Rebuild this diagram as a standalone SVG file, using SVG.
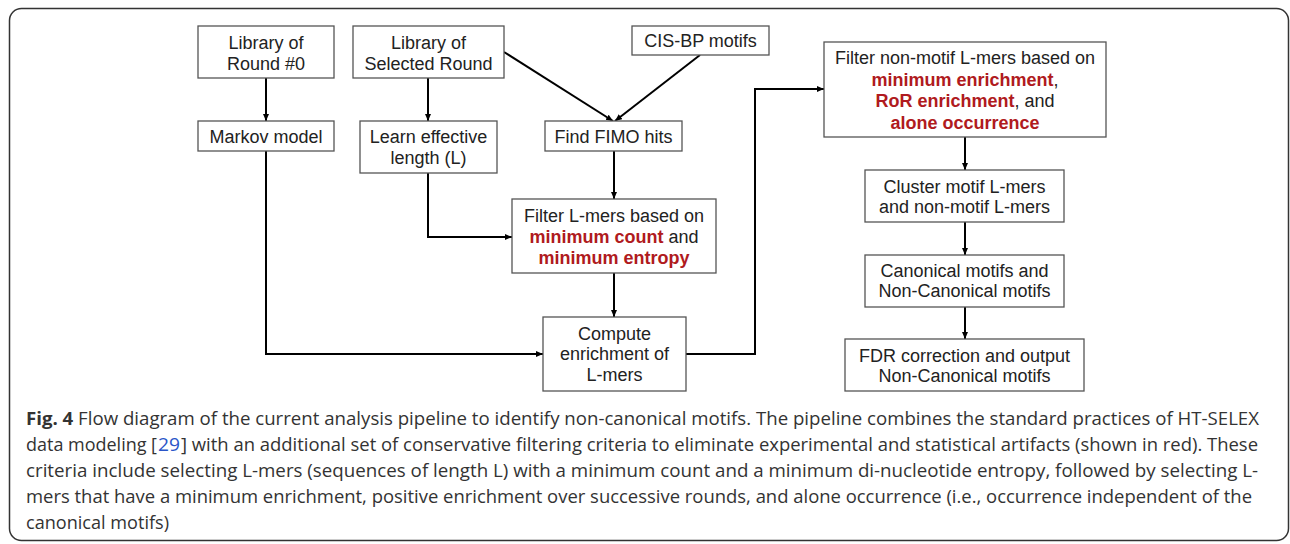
<svg xmlns="http://www.w3.org/2000/svg" width="1290" height="544" viewBox="0 0 1290 544">
<defs>
<marker id="ah" markerUnits="userSpaceOnUse" markerWidth="8" markerHeight="7" refX="7" refY="3" orient="auto">
<path d="M0,0 L7,3 L0,6 z" fill="#000"/>
</marker>
<style>
.box{fill:#fff;stroke:#555;stroke-width:1.3}
.t{font-family:"Liberation Sans",Arial,sans-serif;font-size:18px;fill:#222;text-anchor:middle}
.r{fill:#b01a20;font-weight:bold}
.c{fill:none;stroke:#000;stroke-width:2;marker-end:url(#ah)}
.cap{font-family:"Open Sans","Noto Sans",sans-serif;font-size:18px;fill:#333}
</style>
</defs>
<rect x="0" y="0" width="1290" height="544" fill="#fff"/>
<rect x="9.5" y="8.5" width="1279" height="532" rx="12" fill="none" stroke="#333" stroke-width="1.5"/>

<g id="connectors">
<path class="c" d="M266 78 V121"/>
<path class="c" d="M428 78 V121"/>
<path class="c" d="M504 52 L613 121"/>
<path class="c" d="M700 55 L615 121"/>
<path class="c" d="M614 151 V199"/>
<path class="c" d="M428 173 V237 H512"/>
<path class="c" d="M614 273 V317"/>
<path class="c" d="M266 151 V354 H543"/>
<path class="c" d="M686 354 H755 V89 H824"/>
<path class="c" d="M965 137 V170"/>
<path class="c" d="M965 222 V255"/>
<path class="c" d="M965 307 V339"/>
</g>

<g id="lib0"><rect class="box" x="198" y="26" width="136" height="52"/>
<text class="t" x="266" y="49">Library of</text><text class="t" x="266" y="70">Round #0</text></g>
<g id="libsel"><rect class="box" x="353" y="26" width="151" height="52"/>
<text class="t" x="428.5" y="49">Library of</text><text class="t" x="428.5" y="70">Selected Round</text></g>
<g id="cisbp"><rect class="box" x="632" y="26" width="137" height="29"/>
<text class="t" x="700.5" y="47">CIS-BP motifs</text></g>
<g id="markov"><rect class="box" x="198" y="121" width="136" height="30"/>
<text class="t" x="266" y="143">Markov model</text></g>
<g id="learn"><rect class="box" x="360" y="121" width="137" height="52"/>
<text class="t" x="428.5" y="143">Learn effective</text><text class="t" x="428.5" y="164">length (L)</text></g>
<g id="fimo"><rect class="box" x="545" y="121" width="137" height="30"/>
<text class="t" x="613.5" y="143">Find FIMO hits</text></g>
<g id="filterl"><rect class="box" x="512" y="199" width="204" height="74"/>
<text class="t" x="614" y="222">Filter L-mers based on</text>
<text class="t" x="614" y="243"><tspan class="r">minimum count</tspan> and</text>
<text class="t" x="614" y="264"><tspan class="r">minimum entropy</tspan></text></g>
<g id="compute"><rect class="box" x="543" y="317" width="143" height="74"/>
<text class="t" x="614.5" y="340">Compute</text><text class="t" x="614.5" y="360">enrichment of</text><text class="t" x="614.5" y="381">L-mers</text></g>
<g id="filternm"><rect class="box" x="824" y="42" width="282" height="95"/>
<text class="t" x="965" y="64">Filter non-motif L-mers based on</text>
<text class="t" x="965" y="86"><tspan class="r">minimum enrichment</tspan>,</text>
<text class="t" x="965" y="107"><tspan class="r">RoR enrichment</tspan>, and</text>
<text class="t" x="965" y="129"><tspan class="r">alone occurrence</tspan></text></g>
<g id="cluster"><rect class="box" x="865" y="170" width="199" height="52"/>
<text class="t" x="964.5" y="193">Cluster motif L-mers</text><text class="t" x="964.5" y="213">and non-motif L-mers</text></g>
<g id="canonical"><rect class="box" x="865" y="255" width="199" height="52"/>
<text class="t" x="964.5" y="277">Canonical motifs and</text><text class="t" x="964.5" y="297">Non-Canonical motifs</text></g>
<g id="fdr"><rect class="box" x="845" y="339" width="239" height="52"/>
<text class="t" x="964.5" y="362">FDR correction and output</text><text class="t" x="964.5" y="382">Non-Canonical motifs</text></g>

<g id="caption">
<text class="cap" x="26" y="425" textLength="1233" lengthAdjust="spacingAndGlyphs"><tspan font-weight="bold">Fig. 4</tspan> Flow diagram of the current analysis pipeline to identify non-canonical motifs. The pipeline combines the standard practices of HT-SELEX</text>
<text class="cap" x="26" y="451" textLength="131" lengthAdjust="spacingAndGlyphs">data modeling [</text>
<text class="cap" x="158" y="451" textLength="22" lengthAdjust="spacingAndGlyphs" style="fill:#2a55c8">29</text>
<text class="cap" x="181" y="451" textLength="1077" lengthAdjust="spacingAndGlyphs">] with an additional set of conservative filtering criteria to eliminate experimental and statistical artifacts (shown in red). These</text>
<text class="cap" x="26" y="477" textLength="1232" lengthAdjust="spacingAndGlyphs">criteria include selecting L-mers (sequences of length L) with a minimum count and a minimum di-nucleotide entropy, followed by selecting L-</text>
<text class="cap" x="26" y="503" textLength="1226" lengthAdjust="spacingAndGlyphs">mers that have a minimum enrichment, positive enrichment over successive rounds, and alone occurrence (i.e., occurrence independent of the</text>
<text class="cap" x="26" y="529" textLength="143" lengthAdjust="spacingAndGlyphs">canonical motifs)</text>
</g>
</svg>
